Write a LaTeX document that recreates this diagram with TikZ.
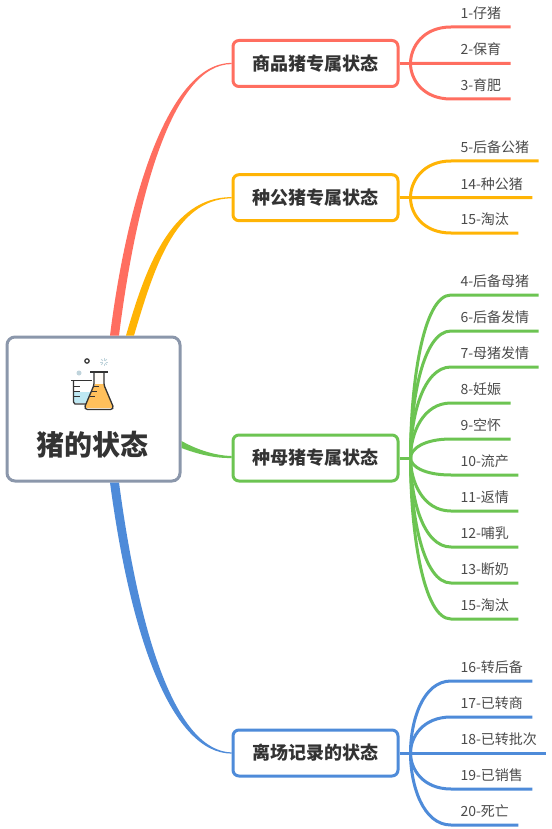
\documentclass[tikz,border=0pt]{standalone}
\usepackage{fontspec}
\setmainfont{Noto Sans CJK SC}
\usepackage{xcolor}
\usetikzlibrary{calc}
\definecolor{mainred}{RGB}{255,110,96}
\definecolor{mainyellow}{RGB}{255,180,5}
\definecolor{maingreen}{RGB}{108,196,82}
\definecolor{mainblue}{RGB}{78,139,217}
\definecolor{rootgray}{RGB}{139,151,171}
\definecolor{inkdark}{RGB}{51,51,51}
\definecolor{inkleaf}{RGB}{75,75,75}
\definecolor{waterblue}{RGB}{190,232,243}
\definecolor{liquidorange}{RGB}{255,192,92}
\definecolor{dotblue}{RGB}{192,212,220}
\tikzset{
  rootbox/.style={draw=rootgray,fill=white,line width=3pt,rounded corners=8pt,minimum width=173pt,minimum height=144pt,inner sep=0pt},
  rootlabel/.style={text=inkdark,font=\fontsize{28}{32}\selectfont\bfseries,inner sep=0pt},
  topicbox/.style={draw=#1,fill=white,line width=3pt,rounded corners=6pt,minimum width=165pt,minimum height=46pt,inner sep=0pt,text=inkdark,font=\fontsize{18}{21}\selectfont\bfseries},
  leafnode/.style={anchor=south west,inner xsep=9.5pt,inner ysep=0pt,outer sep=0pt,minimum height=27pt,text height=11pt,text depth=1pt,text=inkleaf,font=\fontsize{14}{16}\selectfont},
  stemline/.style={line width=3pt},
  leafline/.style={line width=3pt}
}
\begin{document}
\begin{tikzpicture}[x=1pt,y=-1pt]
  \useasboundingbox (0,0) rectangle (551,829);
  \fill[white] (0,0) rectangle (551,829);

  % boxes
  \node[rootbox] (root) at (93.5,409) {};
  \node[rootlabel] (roottitle) at (92.5,445) {猪的状态};
  \node[topicbox=mainred] (topicA) at (315.5,63.5) {商品猪专属状态};
  \node[topicbox=mainyellow] (topicB) at (315.5,197.7) {种公猪专属状态};
  \node[topicbox=maingreen] (topicC) at (315.5,458) {种母猪专属状态};
  \node[topicbox=mainblue] (topicD) at (315.5,753) {离场记录的状态};

  % tapered branches
  \fill[mainred] ($(root.north)+(16.5,0)$) .. controls (127,200) and (168,63) .. ($(topicA.west)+(0,-0.6)$)
    -- ($(topicA.west)+(0,0.6)$) .. controls (172,64) and (136,200) .. ($(root.north)+(25.5,0)$) -- cycle;
  \fill[mainyellow] ($(root.north)+(32.5,0)$) .. controls (145,270) and (170,197) .. ($(topicB.west)+(0,-0.6)$)
    -- ($(topicB.west)+(0,0.6)$) .. controls (174,199) and (153,272) .. ($(root.north)+(40.5,0)$) -- cycle;
  \fill[maingreen] ($(root.east)+(0,32)$) .. controls (193,447.5) and (212,455.5) .. ($(topicC.west)+(0,-2)$)
    -- ($(topicC.west)+(0,0)$) .. controls (214,458.5) and (196,453.5) .. ($(root.east)+(0,39)$) -- cycle;
  \fill[mainblue] ($(root.south)+(16.5,0)$) .. controls (131,640) and (172,753) .. ($(topicD.west)+(0,0.6)$)
    -- ($(topicD.west)+(0,-0.6)$) .. controls (177,751) and (140,640) .. ($(root.south)+(25.5,0)$) -- cycle;

  % stems
  \coordinate (hubA) at ($(topicA.east)+(11,0)$);
  \coordinate (hubB) at ($(topicB.east)+(11,0)$);
  \coordinate (hubC) at ($(topicC.east)+(11,0)$);
  \coordinate (hubD) at ($(topicD.east)+(11,0)$);
  \draw[stemline,mainred] (topicA.east) -- (hubA);
  \draw[stemline,mainyellow] (topicB.east) -- (hubB);
  \draw[stemline,maingreen] (topicC.east) -- (hubC);
  \draw[stemline,mainblue] (topicD.east) -- (hubD);

  % leaves
  \foreach \leafid/\leafy/\leaftext in {a/27/1-仔猪,b/63.5/2-保育,c/99/3-育肥} {
    \node[leafnode] (leaf\leafid) at (451,\leafy) {\leaftext};
    \draw[leafline,mainred] (hubA) .. controls ($(hubA)!0.45!(hubA |- leaf\leafid.south)$) and +(-28,0) .. (leaf\leafid.south west) -- (leaf\leafid.south east);
  }
  \foreach \leafid/\leafy/\leaftext in {d/161/5-后备公猪,e/197.7/14-种公猪,f/233/15-淘汰} {
    \node[leafnode] (leaf\leafid) at (451,\leafy) {\leaftext};
    \draw[leafline,mainyellow] (hubB) .. controls ($(hubB)!0.45!(hubB |- leaf\leafid.south)$) and +(-28,0) .. (leaf\leafid.south west) -- (leaf\leafid.south east);
  }
  \foreach \leafid/\leafy/\leaftext in {g/295/4-后备母猪,h/331/6-后备发情,i/367/7-母猪发情,j/403/8-妊娠,k/439/9-空怀,l/475/10-流产,m/511/11-返情,n/547/12-哺乳,o/583/13-断奶,p/619/15-淘汰} {
    \node[leafnode] (leaf\leafid) at (451,\leafy) {\leaftext};
    \draw[leafline,maingreen] (hubC) .. controls ($(hubC)!0.45!(hubC |- leaf\leafid.south)$) and +(-28,0) .. (leaf\leafid.south west) -- (leaf\leafid.south east);
  }
  \foreach \leafid/\leafy/\leaftext in {q/681/16-转后备,r/717/17-已转商,s/753/18-已转批次,t/789/19-已销售,u/825/20-死亡} {
    \node[leafnode] (leaf\leafid) at (451,\leafy) {\leaftext};
    \draw[leafline,mainblue] (hubD) .. controls ($(hubD)!0.45!(hubD |- leaf\leafid.south)$) and +(-28,0) .. (leaf\leafid.south west) -- (leaf\leafid.south east);
  }

  % flask icon
  \draw[inkdark,line width=1.2pt] (87,361) circle (2.2);
  \fill[dotblue] (79,373) circle (2.5);
  \foreach \a in {0,45,...,315}
    \draw[dotblue,line width=0.8pt] ($(104,362)+(\a:1.5)$) -- ($(104,362)+(\a:4)$);
  \fill[waterblue] (74,392) -- (92,392) -- (92,403) -- (74,403) -- cycle;
  \draw[inkdark,line width=1.3pt,line join=round] (71,380.5) -- (92,380.5);
  \draw[inkdark,line width=1.3pt,line join=round] (73.5,380.5) -- (73.5,402) -- (75,404) -- (86,404);
  \foreach \y in {386,391,396}
    \draw[inkdark,line width=1pt] (74,\y) -- (80,\y);
  \fill[white!96!liquidorange] (94,372) -- (104,372) -- (104,385) -- (94,385) -- cycle;
  \fill[liquidorange] (95,384) -- (104,384) -- (112.5,405) -- (112,408) -- (86,408) -- (85.5,405) -- cycle;
  \draw[inkdark,line width=1.3pt] (90,372) -- (108,372);
  \draw[inkdark,line width=1.3pt,line join=round,rounded corners=1.5pt] (94,372) -- (94,385) -- (84.5,407.5) -- (86,409.5) -- (112,409.5) -- (113.5,407.5) -- (104,385) -- (104,372);
  \foreach \x/\y in {93.5/386,91.5/391,89.5/396}
    \draw[inkdark,line width=1pt] (\x,\y) -- (\x+5,\y);
\end{tikzpicture}
\end{document}
